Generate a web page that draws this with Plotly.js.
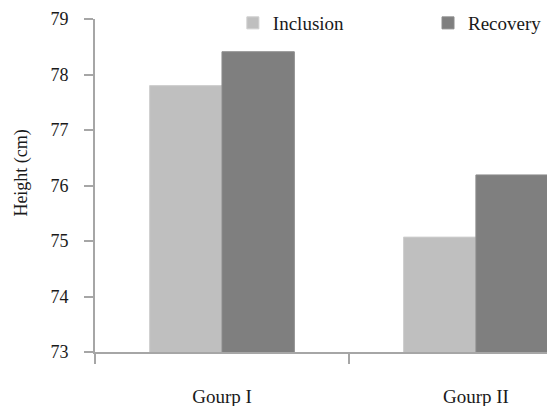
<!DOCTYPE html>
<html>
<head>
<meta charset="utf-8">
<script src="https://cdn.plot.ly/plotly-3.0.1.min.js"></script>
<style>html,body{margin:0;padding:0;background:#fff;}#chart{width:547px;height:406px;}</style>
</head>
<body>
<div id="chart"></div>
<script>
var groups = ["Gourp I", "Gourp II"];
var inclusion = [77.80, 75.07];
var recovery = [78.41, 76.19];
var yTicks = [73, 74, 75, 76, 77, 78, 79];

var serif = "'Liberation Serif', 'Times New Roman', serif";
var legFont = {family: serif, size: 19, color: "#1a1a1a"};

var traces = [
  {type: "bar", name: "Inclusion", x: groups, y: inclusion, legend: "legend",
   marker: {color: "#bfbfbf", line: {color: "#cfcfcf", width: 1}}},
  {type: "bar", name: "Recovery", x: groups, y: recovery, legend: "legend2",
   marker: {color: "#7f7f7f", line: {color: "#8c8c8c", width: 1}}}
];

var layout = {
  width: 547, height: 406,
  margin: {l: 95, r: 0, t: 19, b: 54},
  paper_bgcolor: "#fff", plot_bgcolor: "#fff",
  barmode: "group", bargap: 0.43, bargroupgap: 0,
  font: {family: serif, size: 18, color: "#1a1a1a"},
  showlegend: true,
  legend: {orientation: "h", x: 0.305, xanchor: "left", y: 1.045, yanchor: "top",
           font: legFont, bgcolor: "rgba(0,0,0,0)"},
  legend2: {orientation: "h", x: 1, xanchor: "right", y: 1.045, yanchor: "top",
           font: legFont, bgcolor: "rgba(0,0,0,0)"},
  xaxis: {type: "category", range: [-0.5, 1.28], showgrid: false, zeroline: false,
          showline: true, linecolor: "#a6a6a6", linewidth: 2,
          ticks: "outside", tickson: "boundaries", ticklen: 10, tickcolor: "#a6a6a6", tickwidth: 2,
          ticklabelstandoff: 26,
          tickfont: {family: serif, size: 19, color: "#1a1a1a"}},
  yaxis: {range: [73, 79], tickvals: yTicks, showgrid: false, zeroline: false,
          showline: true, linecolor: "#a6a6a6", linewidth: 2,
          ticks: "outside", ticklen: 9, tickcolor: "#a6a6a6", tickwidth: 2,
          ticklabelstandoff: 12,
          tickfont: {family: serif, size: 18, color: "#1a1a1a"}},
  annotations: [{text: "Height (cm)", xref: "paper", yref: "paper",
                 x: -0.162, y: 0.538, xanchor: "center", yanchor: "middle",
                 textangle: -90, showarrow: false,
                 font: {family: serif, size: 18, color: "#1a1a1a"}}]
};

Plotly.newPlot("chart", traces, layout, {displayModeBar: false, staticPlot: true});
</script>
</body>
</html>
